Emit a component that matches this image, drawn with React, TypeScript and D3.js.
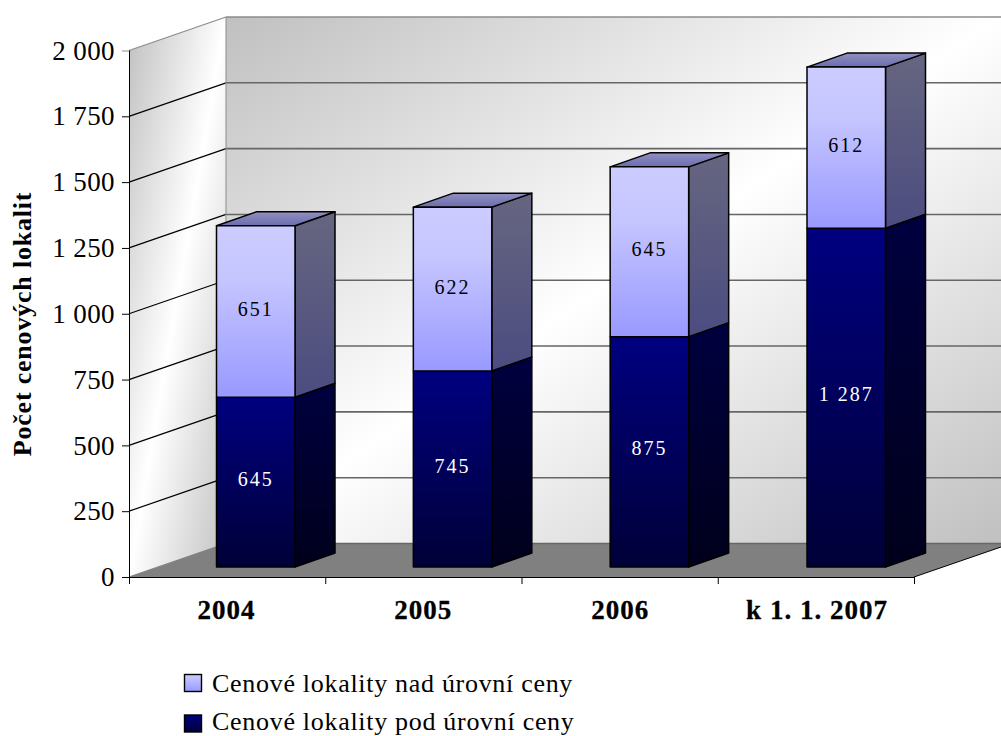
import React, { useEffect, useRef } from 'react'
import * as d3 from 'd3'

const categories = ['2004', '2005', '2006', 'k 1. 1. 2007']
const below = [645, 745, 875, 1287]
const above = [651, 622, 645, 612]
const yTicks = [0, 250, 500, 750, 1000, 1250, 1500, 1750, 2000]
const legendLabels = ['Cenové lokality nad úrovní ceny', 'Cenové lokality pod úrovní ceny']

const FONT = '"Liberation Serif", serif'

export default function App() {
  const svgRef = useRef<SVGSVGElement>(null)

  useEffect(() => {
    const svg = d3.select(svgRef.current)
    svg.selectAll('*').remove()
    svg.attr('width', 1001).attr('height', 736).attr('font-family', FONT)
      .style('position', 'absolute').style('left', 0).style('top', 0)

    const left = 129, right = 914
    const wallDx = 97, wallDy = -33.5
    const barDx = 40, barDy = -14
    const floorOffset = -10
    const barWidth = 78.5

    const y = d3.scaleLinear().domain([0, 2000]).range([577, 50.5])
    const xTick = d3.scaleLinear().domain([0, 4]).range([left, right])
    const xBar = d3.scalePoint().domain(categories).range([216.5, 807])

    const defs = svg.append('defs')
    const grad = (id: string, x1: any, y1: any, x2: any, y2: any, stops: [number, string][]) => {
      const g = defs.append('linearGradient').attr('id', id)
        .attr('x1', x1).attr('y1', y1).attr('x2', x2).attr('y2', y2)
      stops.forEach(([o, c]) => g.append('stop').attr('offset', o).attr('stop-color', c))
    }
    grad('wall', 0, 0, 1, 1, [[0, '#c0c0c0'], [0.5, '#ffffff'], [1, '#c0c0c0']])
    grad('lightFront', 0, 0, 0, 1, [[0, '#ccccff'], [0.3, '#c6c6ff'], [1, '#9999ff']])
    grad('lightSide', 0, 0, 0, 1, [[0, '#666680'], [1, '#4c4c80']])
    grad('lightTop', 0, 0, 0, 1, [[0, '#9090c0'], [1, '#6c6cb0']])
    grad('darkFront', 0, 0, 0, 1, [[0, '#000080'], [1, '#000038']])
    grad('darkSide', 0, 0, 0, 1, [[0, '#000040'], [1, '#00001c']])
    grad('legendLight', 0, 0, 0, 1, [[0, '#ccccff'], [1, '#9999ff']])
    grad('legendDark', 0, 0, 0, 1, [[0, '#000080'], [1, '#000038']])

    const poly = (pts: [number, number][]) => d3.line()(pts)! + 'Z'

    // walls and floor
    svg.append('path').attr('fill', 'url(#wall)')
      .attr('d', poly([[left + wallDx, y(2000) + wallDy], [1001, y(2000) + wallDy], [1001, y(0) + wallDy], [left + wallDx, y(0) + wallDy]]))
    svg.append('path').attr('fill', 'url(#wall)')
      .attr('d', poly([[left, y(2000)], [left + wallDx, y(2000) + wallDy], [left + wallDx, y(0) + wallDy], [left, y(0)]]))
    svg.append('path').attr('fill', '#808080')
      .attr('d', poly([[left, y(0)], [left + wallDx, y(0) + wallDy], [1001, y(0) + wallDy], [1001, 547], [right, y(0)]]))

    // gridlines
    yTicks.forEach(t => {
      const yy = y(t)
      const top = t === 2000
      svg.append('line').attr('x1', left).attr('y1', yy).attr('x2', left + wallDx).attr('y2', yy + wallDy)
        .attr('stroke', top ? '#8c8c8c' : t === 0 ? '#808080' : '#000').attr('stroke-width', 1.2)
      svg.append('line').attr('x1', left + wallDx).attr('y1', yy + wallDy).attr('x2', 1001).attr('y2', yy + wallDy)
        .attr('stroke', top ? '#8c8c8c' : '#666').attr('stroke-width', 1.6)
    })
    svg.append('line').attr('x1', left + wallDx).attr('y1', y(2000) + wallDy).attr('x2', left + wallDx).attr('y2', y(0) + wallDy)
      .attr('stroke', '#8c8c8c')
    svg.append('line').attr('x1', right).attr('y1', y(0)).attr('x2', 1001).attr('y2', 547).attr('stroke', '#000')

    // axes
    const yAxis = svg.append('g').attr('transform', `translate(${left},0)`)
      .call(d3.axisLeft(y).tickValues(yTicks).tickSize(7).tickPadding(7)
        .tickFormat(d => d3.format(',')(d as number).replace(/,/g, ' ')))
    yAxis.selectAll('line').attr('stroke', (d: any) => d === 2000 ? '#8c8c8c' : '#000')
    yAxis.select('.domain').attr('stroke', '#000').attr('d', `M0.5,${y(2000)}V${y(0)}`)
    yAxis.selectAll('text').attr('font-family', FONT).attr('font-size', 27).attr('letter-spacing', 0.4).attr('fill', '#000')

    const xAxis = svg.append('g').attr('transform', `translate(0,${y(0)})`)
      .call(d3.axisBottom(xTick).tickValues([0, 1, 2, 3, 4]).tickSize(7).tickFormat(() => ''))
    xAxis.selectAll('line').attr('stroke', '#000')
    xAxis.select('.domain').attr('stroke', '#000').attr('d', `M${left},0.5H${right}`)

    // bars
    categories.forEach((cat, i) => {
      const x0 = xBar(cat)!
      const x1 = x0 + barWidth
      const base = y(0) + floorOffset
      const yMid = y(below[i]) + floorOffset
      const yTop = y(below[i] + above[i]) + floorOffset
      const g = svg.append('g').attr('stroke', '#000').attr('stroke-width', 1.5).attr('stroke-linejoin', 'round')

      g.append('path').attr('fill', 'url(#darkSide)')
        .attr('d', poly([[x1, yMid], [x1 + barDx, yMid + barDy], [x1 + barDx, base + barDy], [x1, base]]))
      g.append('path').attr('fill', 'url(#lightSide)')
        .attr('d', poly([[x1, yTop], [x1 + barDx, yTop + barDy], [x1 + barDx, yMid + barDy], [x1, yMid]]))
      g.append('path').attr('fill', 'url(#lightTop)')
        .attr('d', poly([[x0, yTop], [x0 + barDx, yTop + barDy], [x1 + barDx, yTop + barDy], [x1, yTop]]))
      g.append('rect').attr('x', x0).attr('y', yMid).attr('width', barWidth).attr('height', base - yMid).attr('fill', 'url(#darkFront)')
      g.append('rect').attr('x', x0).attr('y', yTop).attr('width', barWidth).attr('height', yMid - yTop).attr('fill', 'url(#lightFront)')

      const label = (v: number, yy: number, color: string) => svg.append('text')
        .attr('x', x0 + barWidth / 2).attr('y', yy).attr('text-anchor', 'middle')
        .attr('dy', '0.33em').attr('font-size', 20).attr('letter-spacing', 2).attr('fill', color)
        .text(d3.format(',')(v).replace(/,/g, ' '))
      label(below[i], (base + yMid) / 2 - 3, '#fff')
      label(above[i], (yMid + yTop) / 2 - 2, '#000')

      svg.append('text').attr('x', x0 + 10).attr('y', 619).attr('text-anchor', 'middle')
        .attr('font-size', 27).attr('font-weight', 'bold').attr('letter-spacing', 1)
        .attr('fill', '#000').attr('stroke', '#000').attr('stroke-width', 0.3).text(cat)
    })

    // axis title
    svg.append('text').attr('transform', 'translate(31,324) rotate(-90)').attr('text-anchor', 'middle')
      .attr('font-size', 26).attr('font-weight', 'bold').attr('letter-spacing', 0.8).attr('fill', '#000').text('Počet cenových lokalit')

    // legend, second text sits a bit higher so the descenders stay on the page
    legendLabels.forEach((name, i) => {
      const yy = 692 + i * 40.5
      svg.append('rect').attr('x', 184.5).attr('y', yy - 17.5).attr('width', 17).attr('height', 17)
        .attr('fill', i === 0 ? 'url(#legendLight)' : 'url(#legendDark)').attr('stroke', '#000').attr('stroke-width', 1.4)
      svg.append('text').attr('x', 212).attr('y', 692 + i * 38).attr('font-size', 26).attr('letter-spacing', 0.7).attr('fill', '#000').text(name)
    })
  }, [])

  return <svg ref={svgRef}></svg>
}
